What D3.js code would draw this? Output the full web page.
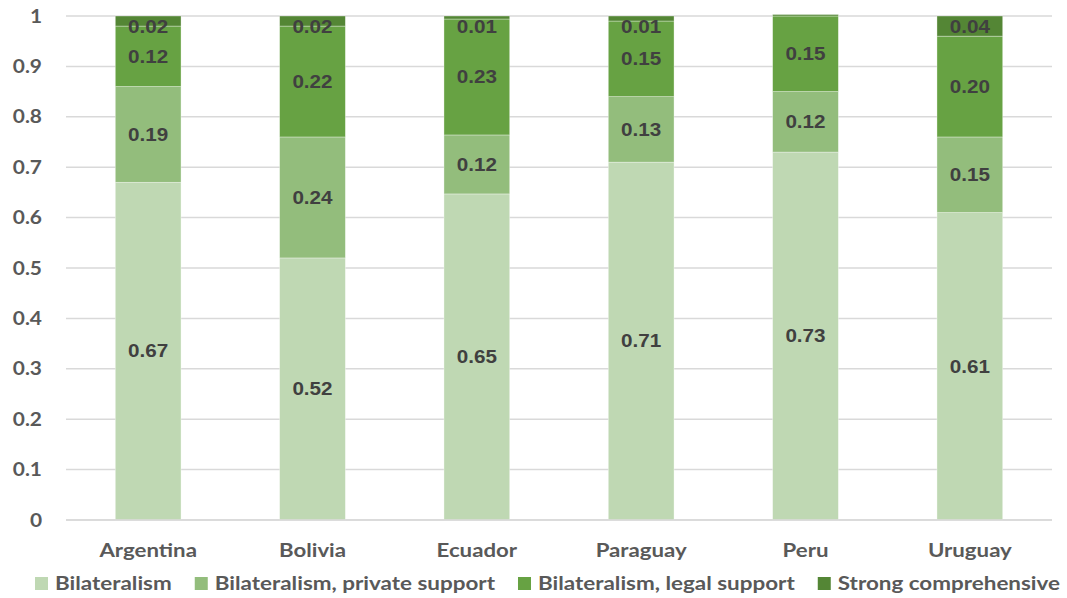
<!DOCTYPE html>
<html>
<head>
<meta charset="utf-8">
<script src="https://cdn.jsdelivr.net/npm/d3@7"></script>
<style>
  html, body { margin: 0; padding: 0; background: #fff; }
  svg { display: block; }
</style>
</head>
<body>
<svg id="chart" width="1067" height="598"></svg>
<script>
// Country categories and the share of each cooperation type
const countries = ["Argentina", "Bolivia", "Ecuador", "Paraguay", "Peru", "Uruguay"];
const seriesNames = ["Bilateralism", "Bilateralism, private support", "Bilateralism, legal support", "Strong comprehensive"];
const bilateralism   = [0.67, 0.52, 0.647, 0.71, 0.73, 0.61];
const privateSupport = [0.19, 0.24, 0.117, 0.13, 0.12, 0.15];
const legalSupport   = [0.12, 0.22, 0.23, 0.15, 0.15, 0.20];
const strongComp     = [0.02, 0.02, 0.006, 0.01, 0.003, 0.04];
const yTicks = [0, 0.1, 0.2, 0.3, 0.4, 0.5, 0.6, 0.7, 0.8, 0.9, 1];
const colors = ["#bfd8b3", "#93bd7c", "#67a243", "#548635"];

const seriesValues = [bilateralism, privateSupport, legalSupport, strongComp];
const rows = countries.map((c, i) => {
  const r = { country: c };
  seriesNames.forEach((s, k) => { r[s] = seriesValues[k][i]; });
  return r;
});

const svg = d3.select("#chart");
const margin = { left: 66, right: 15, top: 16, bottom: 78 };
const W = 1067, H = 598;
const uiFont = "Lato, 'Open Sans', sans-serif";

// Widen text horizontally to the given factor of its natural width
function widen(sel, k) {
  sel.each(function () {
    const w = this.getComputedTextLength();
    d3.select(this).attr("textLength", w * k).attr("lengthAdjust", "spacingAndGlyphs");
  });
}

const x = d3.scaleBand()
  .domain(countries)
  .range([margin.left, W - margin.right])
  .paddingInner(0.6)
  .paddingOuter(0.3);

const y = d3.scaleLinear()
  .domain([0, 1])
  .range([H - margin.bottom, margin.top]);

// Horizontal gridlines
svg.append("g")
  .selectAll("line")
  .data(yTicks)
  .join("line")
  .attr("x1", margin.left)
  .attr("x2", W - margin.right)
  .attr("y1", d => y(d))
  .attr("y2", d => y(d))
  .attr("stroke", "#d9d9d9")
  .attr("stroke-width", 1.5);

// Y axis tick labels
const yAxis = d3.axisLeft(y).tickValues(yTicks).tickFormat(d3.format("~g")).tickSize(0).tickPadding(24);
const gy = svg.append("g").attr("transform", `translate(${margin.left},0)`).call(yAxis);
gy.select(".domain").remove();
gy.selectAll("text")
  .attr("fill", "#595959")
  .style("font-family", uiFont)
  .style("font-weight", "700")
  .style("font-size", "19px")
  .call(widen, 1.1);

// Stacked bars
const stack = d3.stack().keys(seriesNames);
const stacked = stack(rows);

const layers = svg.append("g")
  .selectAll("g")
  .data(stacked)
  .join("g")
  .attr("fill", (d, i) => colors[i]);

layers.selectAll("rect")
  .data(d => d)
  .join("rect")
  .attr("x", d => x(d.data.country))
  .attr("width", x.bandwidth())
  .attr("y", d => y(d[1]))
  .attr("height", d => y(d[0]) - y(d[1]))
  .attr("stroke", "rgba(255,255,255,0.45)")
  .attr("stroke-width", 0.75);

// Value labels in each segment, kept inside the plot area at the top
const fmt = d3.format(".2f");
const labelTop = y(1) + 11;
layers.selectAll("text")
  .data(d => d.filter(p => (p[1] - p[0]) >= 0.005))
  .join("text")
  .attr("x", d => x(d.data.country) + x.bandwidth() / 2)
  .attr("y", d => Math.max(y((d[0] + d[1]) / 2), labelTop))
  .attr("dy", "0.36em")
  .attr("text-anchor", "middle")
  .attr("fill", "#404040")
  .style("font-family", "'Liberation Sans', Arial, sans-serif")
  .style("font-weight", "700")
  .style("font-size", "17.5px")
  .text(d => fmt(d[1] - d[0]))
  .call(widen, 1.18);

// Baseline
svg.append("line")
  .attr("x1", margin.left)
  .attr("x2", W - margin.right)
  .attr("y1", y(0))
  .attr("y2", y(0))
  .attr("stroke", "#d9d9d9")
  .attr("stroke-width", 1.5);

// Category axis labels
const xAxis = d3.axisBottom(x).tickSize(0).tickPadding(23);
const gx = svg.append("g").attr("transform", `translate(0,${y(0)})`).call(xAxis);
gx.select(".domain").remove();
gx.selectAll("text")
  .attr("fill", "#595959")
  .style("font-family", uiFont)
  .style("font-weight", "700")
  .style("font-size", "19.5px")
  .call(widen, 1.14);

// Legend, spread across the bottom edge
const legend = svg.append("g").attr("transform", "translate(0,583)");
const items = legend.selectAll("g")
  .data(seriesNames)
  .join("g");
items.append("rect")
  .attr("width", 13)
  .attr("height", 13)
  .attr("y", -6)
  .attr("fill", (d, i) => colors[i]);
const legendText = items.append("text")
  .attr("x", 20)
  .attr("dy", "0.36em")
  .attr("fill", "#595959")
  .style("font-family", uiFont)
  .style("font-weight", "700")
  .style("font-size", "19px")
  .text(d => d);

const legendLeft = 35, legendRight = 1060, gap = 23;
const natural = [];
legendText.each(function () { natural.push(this.getComputedTextLength()); });
const fixed = natural.length * 20 + gap * (natural.length - 1);
const k = (legendRight - legendLeft - fixed) / d3.sum(natural);
legendText.each(function (d, i) {
  d3.select(this).attr("textLength", natural[i] * k).attr("lengthAdjust", "spacingAndGlyphs");
});
let cursor = legendLeft;
items.attr("transform", (d, i) => {
  const t = `translate(${cursor},0)`;
  cursor += 20 + natural[i] * k + gap;
  return t;
});
</script>
</body>
</html>
